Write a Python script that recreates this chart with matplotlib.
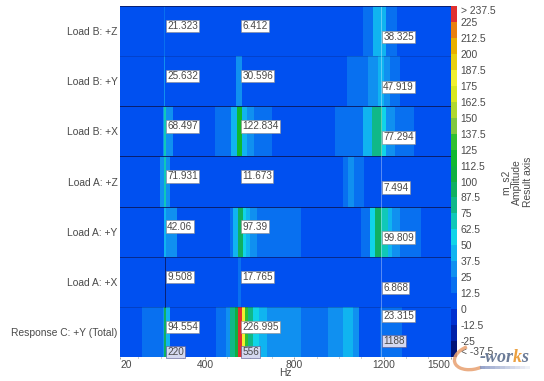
#!/usr/bin/env python3
"""Stacked frequency response maps for the load cases, with cursor read-outs."""

import matplotlib
matplotlib.use('Agg')
import matplotlib.pyplot as plt
from matplotlib.colors import BoundaryNorm, ListedColormap
from matplotlib.patches import Arc, Rectangle

plt.rcParams['font.family'] = ['Liberation Sans', 'DejaVu Sans']

ROW_NAMES = ['Load B: +Z', 'Load B: +Y', 'Load B: +X', 'Load A: +Z',
             'Load A: +Y', 'Load A: +X', 'Response C: +Y (Total)']

# band edges in Hz and the amplitude held inside each band, top row first
EDGES_B_Z = [20, 216, 222, 553, 559, 1107, 1152, 1192, 1210, 1259, 1500]
VALUES_B_Z = [5, 21.3, 5, 6.4, 5, 18, 43, 38.3, 18, 5]

EDGES_B_Y = [20, 216, 222, 539, 565, 1035, 1129, 1174, 1201, 1228, 1273, 1500]
VALUES_B_Y = [5, 25.6, 5, 30.6, 5, 18, 30, 47.9, 30, 18, 5]

EDGES_B_X = [20, 211, 216, 224, 256, 444, 515, 541, 565, 587, 618, 699, 981,
             1107, 1148, 1192, 1210, 1251, 1335, 1500]
VALUES_B_X = [5, 30, 68.5, 30, 5, 18, 43, 122.8, 43, 30, 18, 5, 18, 43, 77.3,
              55, 30, 18, 5]

EDGES_A_Z = [20, 197, 216, 224, 242, 553, 559, 1017, 1040, 1066, 1111, 1500]
VALUES_A_Z = [5, 30, 71.9, 30, 5, 11.7, 5, 18, 30, 18, 5]

EDGES_A_Y = [20, 216, 224, 274, 511, 524, 547, 569, 583, 601, 632, 829, 1098,
             1139, 1161, 1188, 1219, 1237, 1273, 1367, 1500]
VALUES_A_Y = [5, 42.1, 30, 5, 18, 43, 97.4, 55, 43, 30, 18, 5, 18, 55, 99.8,
              70, 43, 30, 18, 5]

EDGES_A_X = [20, 216, 222, 547, 559, 1500]
VALUES_A_X = [5, 9.5, 5, 17.8, 5]

EDGES_C_Y = [20, 117, 211, 215, 224, 242, 448, 493, 511, 534, 547, 565, 578,
             592, 614, 641, 677, 829, 950, 1017, 1062, 1089, 1183, 1282, 1500]
VALUES_C_Y = [8, 18, 30, 94.6, 43, 5, 18, 30, 80, 105, 227, 180, 130, 80, 55,
              43, 30, 18, 30, 43, 30, 5, 23.3, 5]

ALL_EDGES = [EDGES_B_Z, EDGES_B_Y, EDGES_B_X, EDGES_A_Z, EDGES_A_Y, EDGES_A_X, EDGES_C_Y]
ALL_VALUES = [VALUES_B_Z, VALUES_B_Y, VALUES_B_X, VALUES_A_Z, VALUES_A_Y, VALUES_A_X, VALUES_C_Y]

CURSOR_HZ = [220, 556, 1188]
READOUTS = [['21.323', '6.412', '38.325'],
            ['25.632', '30.596', '47.919'],
            ['68.497', '122.834', '77.294'],
            ['71.931', '11.673', '7.494'],
            ['42.06', '97.39', '99.809'],
            ['9.508', '17.765', '6.868'],
            ['94.554', '226.995', '23.315']]
CURSOR_LABELS = ['220', '556', '1188']

LEVELS = [-37.5, -25, -12.5, 0, 12.5, 25, 37.5, 50, 62.5, 75, 87.5, 100, 112.5,
          125, 137.5, 150, 162.5, 175, 187.5, 200, 212.5, 225, 237.5]
LEVEL_LABELS = ['< -37.5', '-25', '-12.5', '0', '12.5', '25', '37.5', '50', '62.5',
                '75', '87.5', '100', '112.5', '125', '137.5', '150', '162.5', '175',
                '187.5', '200', '212.5', '225', '> 237.5']
BAND_COLORS = ['#001478', '#0020a8', '#0030d0', '#0050f0', '#0870f0', '#1090f0',
               '#10b4f0', '#10d4e8', '#10c8b8', '#10b888', '#10b060', '#10b040',
               '#10b830', '#30c030', '#80c840', '#b0d830', '#d8e820', '#f0f030',
               '#e8d010', '#e8b000', '#e88010', '#e03030']

TEXT_GRAY = '#4a4a4a'
LINE_NAVY = '#0a1a60'


def draw_rows(ax, cmap, norm):
    """One mesh strip per row, row 0 at the top of the axes."""
    mesh = None
    for i, (edges, values) in enumerate(zip(ALL_EDGES, ALL_VALUES)):
        mesh = ax.pcolormesh(edges, [i, i + 1], [values], cmap=cmap, norm=norm,
                             shading='flat', rasterized=True)
    ax.set_xlim(20, 1500)
    ax.set_ylim(7, 0)

    for y, alpha in zip(range(1, 7), [0.25, 0.9, 0.9, 0.9, 0.7, 0.3]):
        ax.axhline(y, color=LINE_NAVY, lw=0.7, alpha=alpha)

    ax.axvline(CURSOR_HZ[2], color='white', lw=0.6, alpha=0.4)
    ax.plot([CURSOR_HZ[0]] * 2, [5, 6], color=LINE_NAVY, lw=0.6)
    return mesh


def draw_readouts(ax):
    box = dict(boxstyle='square,pad=0.12', fc='white', ec='#8a8a8a', lw=0.4)
    marker_box = dict(boxstyle='square,pad=0.12', fc='#d4d8f0', ec='#50508a', lw=0.4)

    for i, texts in enumerate(READOUTS):
        for j, (hz, text) in enumerate(zip(CURSOR_HZ, texts)):
            frac = 0.40 if j < 2 else 0.62
            if i == 6 and j == 2:
                frac = 0.18
            ax.annotate(text, (hz, i + frac), xytext=(1.6, 0), textcoords='offset points',
                        va='center', ha='left', fontsize=7.2, color=TEXT_GRAY, bbox=box)

    for hz, text, frac in zip(CURSOR_HZ, CURSOR_LABELS, [0.9, 0.9, 0.68]):
        ax.annotate(text, (hz, 6 + frac), xytext=(1.6, 0), textcoords='offset points',
                    va='center', ha='left', fontsize=7.2, color=TEXT_GRAY, bbox=marker_box)


def style_axes(ax):
    ax.set_yticks([i + 0.5 for i in range(7)])
    ax.set_yticklabels(ROW_NAMES, fontsize=7.4, color=TEXT_GRAY)
    ax.tick_params(axis='y', length=0, pad=2)

    ax.set_xticks([20, 400, 800, 1200, 1500])
    ax.set_xticklabels(['20', '400', '800', '1200', '1500'], fontsize=7.4, color=TEXT_GRAY)
    ax.set_xticks(range(100, 1500, 100), minor=True)
    ax.tick_params(axis='x', which='major', length=1.5, width=0.4, pad=0.8, color='#555555')
    ax.tick_params(axis='x', which='minor', length=1, width=0.4, color='#555555')
    labels = ax.get_xticklabels()
    labels[0].set_ha('left')
    labels[-1].set_ha('right')
    ax.set_xlabel('Hz', fontsize=7.4, color=TEXT_GRAY, labelpad=-1.5)

    for name, spine in ax.spines.items():
        spine.set_linewidth(0.6)
        spine.set_color(LINE_NAVY)
        spine.set_visible(name == 'top')


def draw_colorbar(fig, cax, mesh):
    cbar = fig.colorbar(mesh, cax=cax, ticks=LEVELS, spacing='uniform')
    cbar.ax.set_yticklabels(LEVEL_LABELS, fontsize=7.4, color=TEXT_GRAY)
    cbar.ax.tick_params(length=0, pad=2.5)
    cbar.outline.set_visible(False)
    labels = cbar.ax.get_yticklabels()
    labels[0].set_va('bottom')
    labels[-1].set_va('top')

    for x, text in zip([505, 517, 528], ['m_s2', 'Amplitude', 'Result axis']):
        fig.text(x / 544, 1 - 182 / 381, text, rotation=90, ha='center', va='center',
                 fontsize=7.4, color=TEXT_GRAY)


def draw_logo(fig):
    """e-works watermark in the lower right corner, in figure pixels."""
    over = fig.add_axes([0, 0, 1, 1], facecolor='none')
    over.set_xlim(0, 544)
    over.set_ylim(381, 0)
    over.axis('off')

    over.add_patch(Arc((474, 357), 40, 24, angle=-15, theta1=70, theta2=250,
                       color='#e8a070', lw=2.4, alpha=0.85))
    over.text(480, 358, '-wor', fontsize=13, family='Liberation Serif', weight='bold',
              style='italic', color='#6c7c98', ha='left', va='center')
    over.text(513, 358, 'k', fontsize=13, family='Liberation Serif', weight='bold',
              style='italic', color='#eba040', ha='left', va='center')
    over.text(521, 358, 's', fontsize=13, family='Liberation Serif', weight='bold',
              style='italic', color='#6c7c98', ha='left', va='center')
    for k in range(10):
        over.add_patch(Rectangle((480 + k * 5, 366), 5, 3, fc='#7f90c0', ec='none',
                                 alpha=0.8 - k * 0.075))


def main():
    cmap = ListedColormap(BAND_COLORS)
    norm = BoundaryNorm(LEVELS, cmap.N)

    fig = plt.figure(figsize=(5.44, 3.81), dpi=100)
    ax = fig.add_axes([120.4 / 544, 1 - 357 / 381, 330.2 / 544, 351 / 381])
    cax = fig.add_axes([450.6 / 544, 1 - 357 / 381, 6.6 / 544, 351 / 381])

    mesh = draw_rows(ax, cmap, norm)
    draw_readouts(ax)
    style_axes(ax)
    draw_colorbar(fig, cax, mesh)
    draw_logo(fig)

    fig.savefig('out.png', dpi=100)
    plt.close(fig)


if __name__ == '__main__':
    main()
